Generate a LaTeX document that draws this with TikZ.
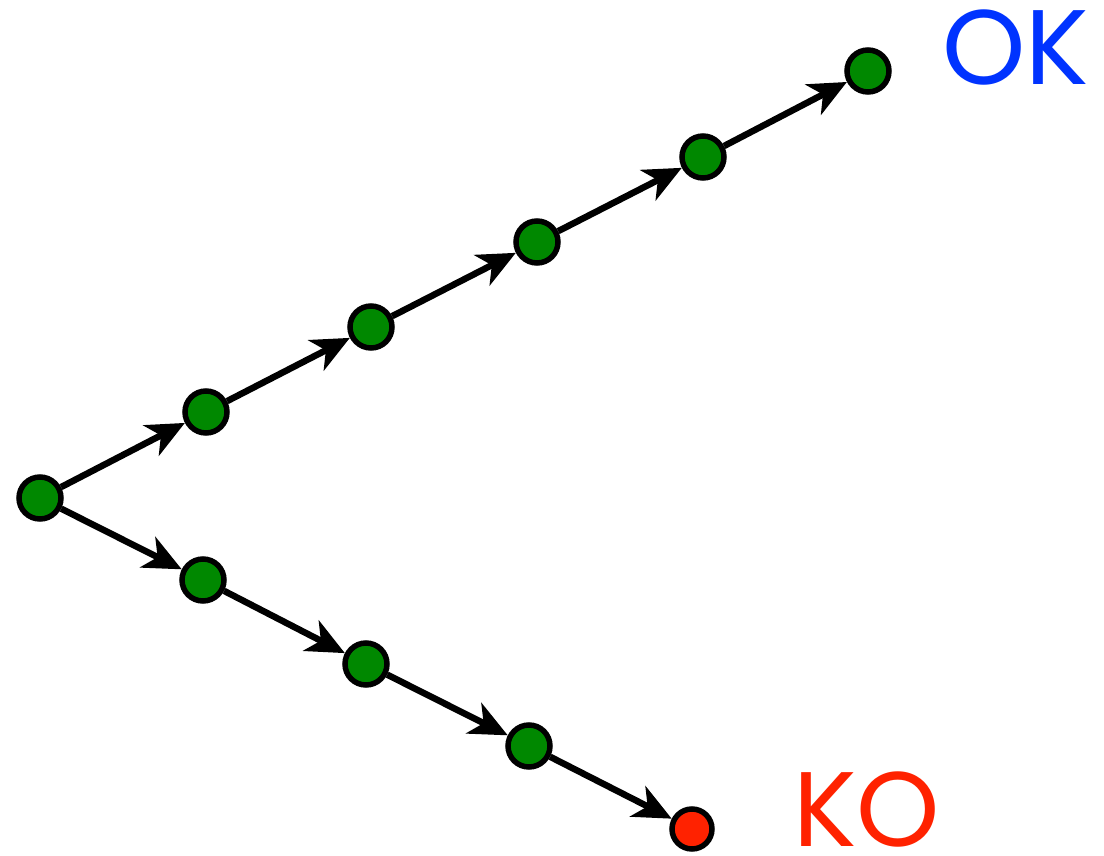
\documentclass[tikz,border=0pt]{standalone}
\usepackage{fontspec}
\setsansfont{Poppins}
\usetikzlibrary{arrows.meta}
\definecolor{dotgreen}{HTML}{008800}
\definecolor{dotred}{HTML}{FF2200}
\definecolor{okblue}{HTML}{0033FF}
\begin{document}
\begin{tikzpicture}[x=1pt,y=-1pt,
  dot/.style={circle,draw=black,line width=5.5pt,fill=dotgreen,minimum size=42pt,inner sep=0pt},
  reddot/.style={dot,fill=dotred,minimum size=40pt},
  edge/.style={line width=6.5pt,-{Stealth[length=38pt,width=34pt,inset=11pt]}},
  lbl/.style={font=\sffamily\fontsize{106}{106}\selectfont,inner sep=0pt,text depth=0pt,anchor=base west}]
\useasboundingbox (0,0) rectangle (1104,856);
\node[dot] (n0) at (40,498) {};
\node[dot] (u1) at (206,412) {};
\node[dot] (u2) at (371,327) {};
\node[dot] (u3) at (537,242) {};
\node[dot] (u4) at (703,157) {};
\node[dot] (u5) at (868,71) {};
\node[dot] (d1) at (203,580) {};
\node[dot] (d2) at (366,664) {};
\node[dot] (d3) at (529,746) {};
\node[reddot] (d4) at (692,829) {};
\draw[edge] (n0) -- (u1);
\draw[edge] (u1) -- (u2);
\draw[edge] (u2) -- (u3);
\draw[edge] (u3) -- (u4);
\draw[edge] (u4) -- (u5);
\draw[edge] (n0) -- (d1);
\draw[edge] (d1) -- (d2);
\draw[edge] (d2) -- (d3);
\draw[edge] (d3) -- (d4);
\node[lbl,text=okblue] (ok) at (942,85) {OK};
\node[lbl,text=dotred] (ko) at (793,846) {KO};
\end{tikzpicture}
\end{document}
